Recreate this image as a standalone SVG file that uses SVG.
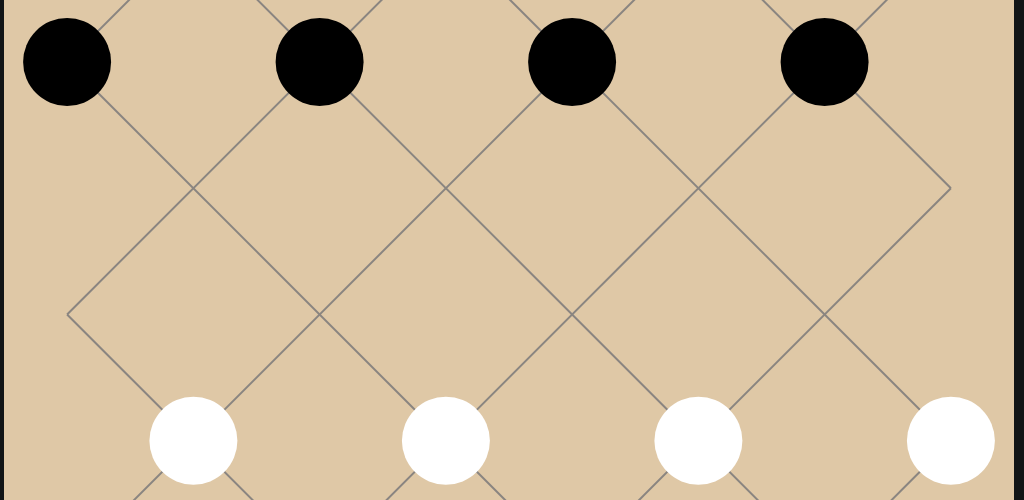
<svg xmlns="http://www.w3.org/2000/svg" width="1024" height="500" viewBox="0 0 1024 500">
  <style>
    .ln { stroke: #8a8580; stroke-width: 2; fill: none; }
    .blk { fill: #000000; }
    .wht { fill: #ffffff; }
  </style>
  <rect x="0" y="0" width="1024" height="500" fill="#111516"/>
  <rect x="4" y="0" width="1010" height="500" fill="#dfc8a6"/>
  <g id="connectors">
    <line class="ln" x1="67.1" y1="-695.5" x2="950.9" y2="188.25"/>
    <line class="ln" x1="67.1" y1="-443" x2="950.9" y2="440.75"/>
    <line class="ln" x1="67.1" y1="-190.5" x2="950.9" y2="693.25"/>
    <line class="ln" x1="67.1" y1="62" x2="950.9" y2="945.75"/>
    <line class="ln" x1="67.1" y1="314.5" x2="950.9" y2="1198.25"/>
    <line class="ln" x1="67.1" y1="567" x2="950.9" y2="1450.75"/>
    <line class="ln" x1="67.1" y1="62" x2="950.9" y2="-821.75"/>
    <line class="ln" x1="67.1" y1="314.5" x2="950.9" y2="-569.25"/>
    <line class="ln" x1="67.1" y1="567" x2="950.9" y2="-316.75"/>
    <line class="ln" x1="67.1" y1="819.5" x2="950.9" y2="-64.25"/>
    <line class="ln" x1="67.1" y1="1072" x2="950.9" y2="188.25"/>
    <line class="ln" x1="67.1" y1="1324.5" x2="950.9" y2="440.75"/>
  </g>
  <g id="black-1"><circle class="blk" cx="67.1" cy="62" r="44"/></g>
  <g id="black-2"><circle class="blk" cx="319.6" cy="62" r="44"/></g>
  <g id="black-3"><circle class="blk" cx="572.1" cy="62" r="44"/></g>
  <g id="black-4"><circle class="blk" cx="824.6" cy="62" r="44"/></g>
  <g id="white-1"><circle class="wht" cx="193.4" cy="440.75" r="44"/></g>
  <g id="white-2"><circle class="wht" cx="445.9" cy="440.75" r="44"/></g>
  <g id="white-3"><circle class="wht" cx="698.4" cy="440.75" r="44"/></g>
  <g id="white-4"><circle class="wht" cx="950.9" cy="440.75" r="44"/></g>
</svg>
